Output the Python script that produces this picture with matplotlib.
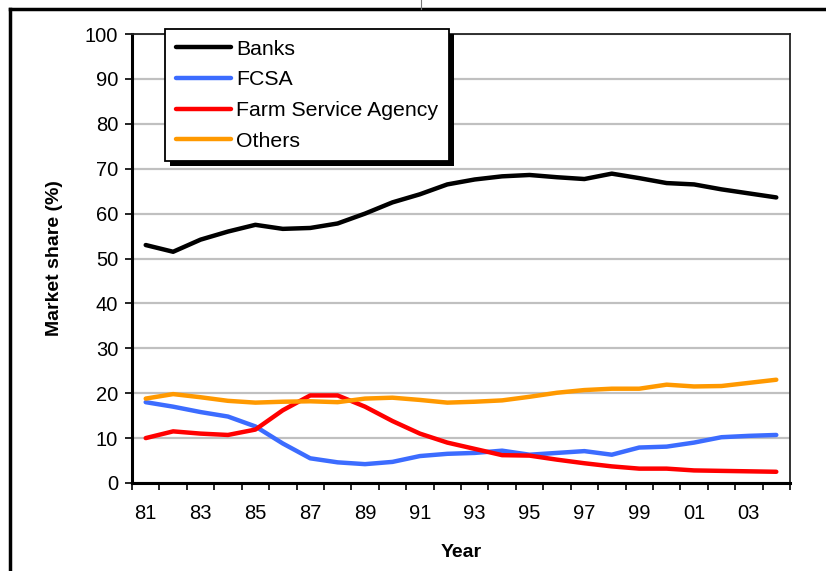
import matplotlib
matplotlib.use("Agg")
import matplotlib.pyplot as plt
from matplotlib.lines import Line2D
from matplotlib.patches import Rectangle

plt.rcParams['font.family'] = ['Liberation Sans', 'DejaVu Sans']

# Data
years = ['81', '82', '83', '84', '85', '86', '87', '88', '89', '90', '91', '92',
         '93', '94', '95', '96', '97', '98', '99', '00', '01', '02', '03', '04']
banks = [53.0, 51.5, 54.2, 56.0, 57.5, 56.6, 56.8, 57.8, 60.0, 62.5, 64.3, 66.5,
         67.6, 68.3, 68.6, 68.1, 67.7, 68.9, 67.9, 66.8, 66.5, 65.4, 64.5, 63.6]
fcsa = [18.0, 17.0, 15.8, 14.8, 12.6, 8.8, 5.5, 4.6, 4.2, 4.7, 6.0, 6.5,
        6.7, 7.2, 6.3, 6.7, 7.1, 6.3, 7.9, 8.1, 9.0, 10.2, 10.5, 10.7]
fsa = [10.0, 11.5, 11.0, 10.7, 11.9, 16.2, 19.5, 19.5, 17.0, 13.8, 11.0, 9.0,
       7.6, 6.2, 6.1, 5.2, 4.4, 3.7, 3.2, 3.2, 2.8, 2.7, 2.6, 2.5]
others = [18.8, 19.8, 19.1, 18.3, 17.9, 18.1, 18.2, 18.0, 18.8, 19.0, 18.5, 17.9,
          18.1, 18.4, 19.2, 20.1, 20.7, 21.0, 21.0, 21.9, 21.5, 21.6, 22.3, 23.0]

series = [('Banks', banks, '#000000'),
          ('FCSA', fcsa, '#3c6cff'),
          ('Farm Service Agency', fsa, '#ff0000'),
          ('Others', others, '#ff9900')]

FS = 14.5
W, H = 826, 571
fig = plt.figure(figsize=(W / 100, H / 100), dpi=100)
ax = fig.add_axes([132 / W, 1 - 483 / H, (790 - 132) / W, (483 - 34) / H])

x = list(range(len(years)))
for name, vals, col in series:
    ax.plot(x, vals, color=col, lw=3.2, label=name, solid_capstyle='round',
            solid_joinstyle='round', zorder=3)

ax.set_ylim(0, 100)
ax.set_xlim(-0.5, len(years) - 0.5)
ax.set_yticks(range(0, 101, 10))
ax.yaxis.grid(True, color='#c0c0c0', lw=1.6)
ax.set_axisbelow(True)

# category axis: tick marks between categories, labels every other year
ax.set_xticks([i - 0.5 for i in range(len(years) + 1)])
ax.set_xticklabels([])
ax.set_xticks(x[::2], minor=True)
ax.set_xticklabels(years[::2], minor=True)
ax.tick_params(axis='x', which='major', length=5, width=1.2, color='black')
ax.tick_params(axis='x', which='minor', length=0, pad=15, labelsize=FS)
ax.tick_params(axis='y', length=5, width=1.2, pad=5, labelsize=FS)

for s in ['left', 'bottom']:
    ax.spines[s].set_linewidth(2.2)
for s in ['top', 'right']:
    ax.spines[s].set_linewidth(1.3)
    ax.spines[s].set_color('#222222')

ax.set_ylabel('Market share (%)', fontsize=FS - 0.5, fontweight='bold', labelpad=16)
ax.set_xlabel('Year', fontsize=FS - 0.5, fontweight='bold', labelpad=15)

leg = ax.legend(loc='upper left', bbox_to_anchor=(165 / W, 1 - 29 / H),
                bbox_transform=fig.transFigure, borderaxespad=0, frameon=True,
                fancybox=False, edgecolor='black', framealpha=1, fontsize=15.3,
                handlelength=2.6, handletextpad=0.25, labelspacing=0.55,
                borderpad=0.5)
leg.get_frame().set_linewidth(1.3)
leg.set_zorder(10)

# black drop shadow behind the legend
fig.canvas.draw()
bb = leg.get_window_extent()
shadow = Rectangle((bb.x0 + 5, bb.y0 - 5), bb.width, bb.height,
                   transform=None, facecolor='black', edgecolor='none',
                   zorder=9, clip_on=False)
ax.add_artist(shadow)

# outer frame pieces
fig.add_artist(Line2D([10 / W, 1], [1 - 9 / H, 1 - 9 / H], transform=fig.transFigure,
                      color='black', lw=2.5))
fig.add_artist(Line2D([10 / W, 10 / W], [0, 1 - 9 / H], transform=fig.transFigure,
                      color='black', lw=2.5))
fig.add_artist(Line2D([421 / W, 421 / W], [1 - 9 / H, 1], transform=fig.transFigure,
                      color='#777777', lw=0.8))

fig.savefig('out.png', dpi=100)
